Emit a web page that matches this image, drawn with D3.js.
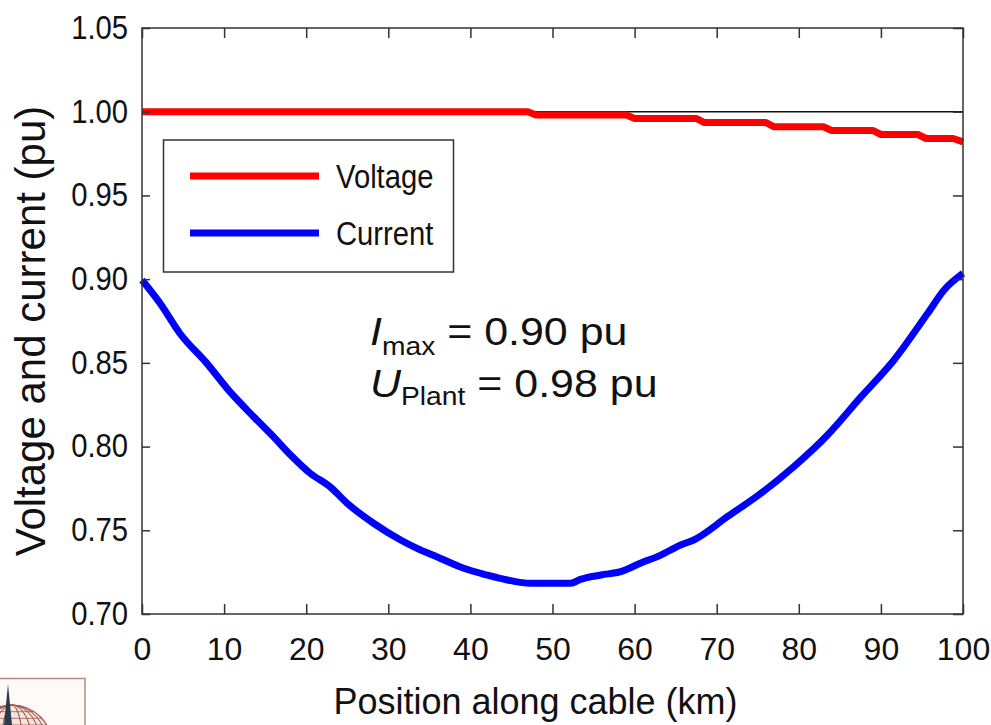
<!DOCTYPE html>
<html>
<head>
<meta charset="utf-8">
<script src="https://cdn.jsdelivr.net/npm/d3@7"></script>
<style>
  html, body { margin: 0; padding: 0; background: #fff; }
  svg { display: block; font-family: "Liberation Sans", Arial, sans-serif; }
</style>
</head>
<body>
<svg id="chart" width="991" height="725"></svg>
<script>
// ---- data ----
const xTicks = [0, 10, 20, 30, 40, 50, 60, 70, 80, 90, 100];
const yTicks = [0.70, 0.75, 0.80, 0.85, 0.90, 0.95, 1.00, 1.05];

const voltagePos = [0, 47, 48, 59, 60, 67.5, 68.5, 76, 77, 83, 84, 89, 90, 94.5, 95.5, 98.8, 100];
const voltageVal = [1.000, 1.000, 0.998, 0.998, 0.996, 0.996, 0.9935, 0.9935, 0.991, 0.991, 0.9888, 0.9888, 0.9864, 0.9864, 0.984, 0.984, 0.982];

const currentPos = [0, 2.2, 4.6, 7.9, 10.7, 13.6, 16.0, 18.1, 20.5, 22.9, 25.0, 28.2, 31.5, 33.5, 35.9, 39.2, 42.0, 44.5, 47.3, 52.2, 53.4, 55.9, 58.3, 60.7, 63.2, 65.6, 67.2, 71.3, 75.4, 79.4, 83.5, 87.6, 91.6, 95.7, 97.7, 100];
const currentVal = [0.8995, 0.8856, 0.8677, 0.8497, 0.8328, 0.8178, 0.8059, 0.7950, 0.7840, 0.7760, 0.7661, 0.7542, 0.7442, 0.7392, 0.7342, 0.7273, 0.7233, 0.7203, 0.7183, 0.7183, 0.7207, 0.7233, 0.7253, 0.7303, 0.7352, 0.7412, 0.7442, 0.7581, 0.7721, 0.7880, 0.8069, 0.8298, 0.8517, 0.8796, 0.8935, 0.9035];

const refLevel = [1.00];
const legendLabels = ["Voltage", "Current"];
const seriesColors = ["#ff0000", "#0000ff"];

// ---- layout ----
const svg = d3.select("#chart");
const L = 142, R = 963, T = 28, B = 614;
const x = d3.scaleLinear().domain([0, 100]).range([L, R]);
const y = d3.scaleLinear().domain([0.70, 1.05]).range([B, T]);

const frameColor = "#333";

// reference line at 1.00
svg.selectAll("line.ref").data(refLevel).enter().append("line")
  .attr("x1", L).attr("x2", R)
  .attr("y1", d => y(d)).attr("y2", d => y(d))
  .attr("stroke", "#111").attr("stroke-width", 1.5);

// series
const line = d3.line().x(d => x(d[0])).y(d => y(d[1]));
const vData = voltagePos.map((p, i) => [p, voltageVal[i]]);
const cData = currentPos.map((p, i) => [p, currentVal[i]]);

svg.append("path").datum(vData).attr("d", line)
  .attr("fill", "none").attr("stroke", seriesColors[0]).attr("stroke-width", 7)
  .attr("stroke-linejoin", "round");
svg.append("path").datum(cData).attr("d", line.curve(d3.curveMonotoneX))
  .attr("fill", "none").attr("stroke", seriesColors[1]).attr("stroke-width", 7)
  .attr("stroke-linejoin", "round");

// frame
svg.append("rect").attr("x", L).attr("y", T).attr("width", R - L).attr("height", B - T)
  .attr("fill", "none").attr("stroke", frameColor).attr("stroke-width", 1.5);

// axes (inward ticks)
const xAxis = d3.axisBottom(x).tickValues(xTicks).tickSizeInner(-10).tickSizeOuter(0).tickPadding(23)
  .tickFormat(d3.format("d"));
const gx = svg.append("g").attr("transform", `translate(0,${B})`).call(xAxis);
const xAxisTop = d3.axisTop(x).tickValues(xTicks).tickSizeInner(-10).tickSizeOuter(0).tickFormat("");
svg.append("g").attr("transform", `translate(0,${T})`).call(xAxisTop);

const yAxis = d3.axisLeft(y).tickValues(yTicks).tickSizeInner(-8).tickSizeOuter(0).tickPadding(15.5)
  .tickFormat(d3.format(".2f"));
const gy = svg.append("g").attr("transform", `translate(${L},0)`).call(yAxis);
const yAxisR = d3.axisRight(y).tickValues(yTicks).tickSizeInner(-10).tickSizeOuter(0).tickFormat("");
svg.append("g").attr("transform", `translate(${R},0)`).call(yAxisR);

svg.selectAll(".domain").remove();
svg.selectAll(".tick line").attr("stroke", frameColor).attr("stroke-width", 1.5);
svg.selectAll(".tick text").attr("fill", "#111")
  .attr("font-family", "'Liberation Sans', Arial, sans-serif");
gx.selectAll(".tick text").attr("dy", "0.71em").attr("font-size", 32);
gy.selectAll(".tick text").attr("font-size", 32.5).attr("transform", "scale(0.9,1)");

// axis titles
svg.append("text").attr("x", (L + R) / 2 - 17).attr("y", 714)
  .attr("text-anchor", "middle").attr("font-size", 36).attr("fill", "#111")
  .text("Position along cable (km)");
svg.append("text").attr("transform", "translate(45,331) rotate(-90)")
  .attr("text-anchor", "middle").attr("font-size", 42).attr("fill", "#111")
  .text("Voltage and current (pu)");

// legend
const lg = svg.append("g");
lg.append("rect").attr("x", 163.5).attr("y", 140).attr("width", 290).attr("height", 132)
  .attr("fill", "#fff").attr("stroke", frameColor).attr("stroke-width", 1.5);
legendLabels.forEach((lab, i) => {
  const yy = 176 + i * 57;
  lg.append("line").attr("x1", 190).attr("x2", 319).attr("y1", yy).attr("y2", yy)
    .attr("stroke", seriesColors[i]).attr("stroke-width", 7);
  lg.append("text").attr("transform", `translate(336,${yy + 12}) scale(0.86,1)`)
    .attr("font-size", 34).attr("fill", "#111")
    .text(lab);
});

// annotation
const ann = svg.append("g").attr("fill", "#111");
const t1 = ann.append("text").attr("transform", "translate(370,345) scale(1.13,1)").attr("font-size", 38);
t1.append("tspan").attr("font-style", "italic").text("I");
t1.append("tspan").attr("font-size", 25).attr("dy", 10).text("max");
t1.append("tspan").attr("dy", -10).text(" = 0.90 pu");
const t2 = ann.append("text").attr("transform", "translate(370,397) scale(1.13,1)").attr("font-size", 38);
t2.append("tspan").attr("font-style", "italic").text("U");
t2.append("tspan").attr("font-size", 25).attr("dy", 8).text("Plant");
t2.append("tspan").attr("dy", -8).text(" = 0.98 pu");

// logo (decorative)
const logo = svg.append("g");
logo.append("rect").attr("x", -5).attr("y", 678.5).attr("width", 90).attr("height", 60)
  .attr("fill", "#fdfaf8").attr("stroke", "#b38b80").attr("stroke-width", 1.5);
const gClip = logo.append("clipPath").attr("id", "gc");
gClip.append("rect").attr("x", 0).attr("y", 679).attr("width", 84).attr("height", 46);
const globe = logo.append("g").attr("clip-path", "url(#gc)");
const cx = 12, cy = 745, rr = 40;
globe.append("circle").attr("cx", cx).attr("cy", cy).attr("r", rr)
  .attr("fill", "#f3e4df").attr("stroke", "#9a5a4a").attr("stroke-width", 1.2);
d3.range(-60, 61, 15).forEach(a => {
  const rx = Math.abs(Math.sin(a * Math.PI / 180)) * rr;
  globe.append("ellipse").attr("cx", cx).attr("cy", cy).attr("rx", rx).attr("ry", rr)
    .attr("fill", "none").attr("stroke", "#a4584a").attr("stroke-width", 0.8);
});
d3.range(1, 6).forEach(k => {
  const yy = cy - k * rr / 6;
  const half = Math.sqrt(rr * rr - (cy - yy) * (cy - yy));
  globe.append("line").attr("x1", cx - half).attr("x2", cx + half).attr("y1", yy).attr("y2", yy)
    .attr("stroke", "#a4584a").attr("stroke-width", 0.8);
});
globe.append("path").attr("d", "M4,725 L8,684 L12,725 Z").attr("fill", "#2b3a4a");
</script>
</body>
</html>
